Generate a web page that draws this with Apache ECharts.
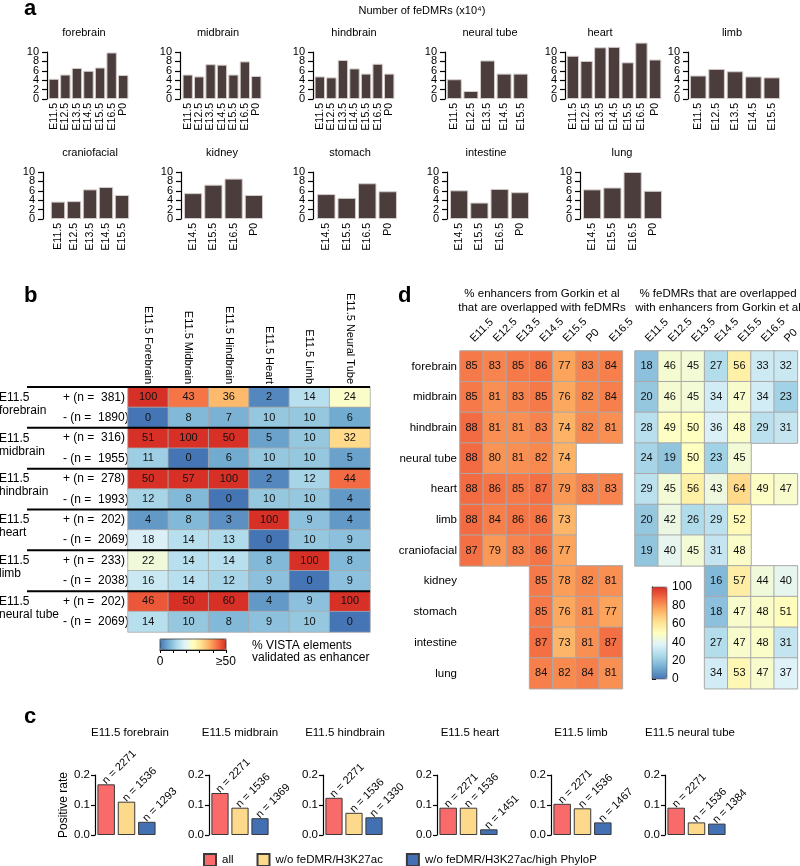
<!DOCTYPE html>
<html><head><meta charset="utf-8">
<script src="https://cdn.jsdelivr.net/npm/echarts@6/dist/echarts.min.js"></script>
<style>html,body{margin:0;padding:0;background:#fff}#c{width:800px;height:866px}</style>
</head><body><div id="c"></div>
<script>
// ---------------- DATA ----------------
// Panel a: number of feDMRs (x10^4)
const aTitle = 'Number of feDMRs (x10\u2074)';
const aTissues = ['forebrain','midbrain','hindbrain','neural tube','heart','limb','craniofacial','kidney','stomach','intestine','lung'];
const aStages = [
  ['E11.5','E12.5','E13.5','E14.5','E15.5','E16.5','P0'],
  ['E11.5','E12.5','E13.5','E14.5','E15.5','E16.5','P0'],
  ['E11.5','E12.5','E13.5','E14.5','E15.5','E16.5','P0'],
  ['E11.5','E12.5','E13.5','E14.5','E15.5'],
  ['E11.5','E12.5','E13.5','E14.5','E15.5','E16.5','P0'],
  ['E11.5','E12.5','E13.5','E14.5','E15.5'],
  ['E11.5','E12.5','E13.5','E14.5','E15.5'],
  ['E14.5','E15.5','E16.5','P0'],
  ['E14.5','E15.5','E16.5','P0'],
  ['E14.5','E15.5','E16.5','P0'],
  ['E14.5','E15.5','E16.5','P0']
];
const aValues = [
  [4.3,5.2,6.6,6.0,6.7,9.9,5.1],
  [5.2,4.8,7.4,7.3,5.2,8.0,4.9],
  [4.8,4.6,8.3,6.5,5.4,7.5,5.4],
  [4.2,1.7,8.2,5.4,5.4],
  [9.2,8.1,11.0,11.1,7.8,12.0,8.4],
  [5.0,6.4,5.9,4.8,4.6],
  [3.7,3.8,6.3,6.8,5.1],
  [5.5,7.3,8.6,5.1],
  [5.3,4.5,7.6,5.9],
  [6.1,3.5,6.4,5.7],
  [6.3,6.7,10.0,6.0]
];
const aTickLabels = ['0','2','4','6','8','10'];

// Panel b: % VISTA elements validated as enhancer
const bCols = ['E11.5 Forebrain','E11.5 Midbrain','E11.5 Hindbrain','E11.5 Heart','E11.5 Limb','E11.5 Neural Tube'];
const bTissues = ['forebrain','midbrain','hindbrain','heart','limb','neural tube'];
const bPosN = [381,316,278,202,233,202];
const bNegN = [1890,1955,1993,2069,2038,2069];
const bPos = [
  [100,43,36,2,14,24],
  [51,100,50,5,10,32],
  [50,57,100,2,12,44],
  [4,8,3,100,9,4],
  [22,14,14,8,100,8],
  [46,50,60,4,9,100]
];
const bNeg = [
  [0,8,7,10,10,6],
  [11,0,6,10,10,5],
  [12,8,0,10,10,4],
  [18,14,13,0,10,9],
  [16,14,12,9,0,9],
  [14,10,8,9,10,0]
];
const bScaleMax = 50;
const bLegendText = '% VISTA elements\nvalidated as enhancer';

// Panel d: overlaps with Gorkin et al enhancers
const dRows = ['forebrain','midbrain','hindbrain','neural tube','heart','limb','craniofacial','kidney','stomach','intestine','lung'];
const dLeftCols = ['E11.5','E12.5','E13.5','E14.5','E15.5','P0','E16.5'];
const dRightCols = ['E11.5','E12.5','E13.5','E14.5','E15.5','E16.5','P0'];
const dLeft = [
  [85,83,85,86,77,83,84],
  [85,81,83,85,76,82,84],
  [88,81,81,83,74,82,81],
  [88,80,81,82,74,null,null],
  [88,86,85,87,79,83,83],
  [88,84,86,86,73,null,null],
  [87,79,83,86,77,null,null],
  [null,null,null,85,78,82,81],
  [null,null,null,85,76,81,77],
  [null,null,null,87,73,81,87],
  [null,null,null,84,82,84,81]
];
const dRight = [
  [18,46,45,27,56,33,32],
  [20,46,45,34,47,34,23],
  [28,49,50,36,48,29,31],
  [24,19,50,23,45,null,null],
  [29,45,56,43,64,49,47],
  [20,42,26,29,52,null,null],
  [19,40,45,31,48,null,null],
  [null,null,null,16,57,44,40],
  [null,null,null,18,47,48,51],
  [null,null,null,27,47,48,31],
  [null,null,null,34,53,47,37]
];
const dLeftTitle = '% enhancers from Gorkin et al\nthat are overlapped with feDMRs';
const dRightTitle = '% feDMRs that are overlapped\nwith enhancers from Gorkin et al';

// Panel c: positive rate
const cTissues = ['E11.5 forebrain','E11.5 midbrain','E11.5 hindbrain','E11.5 heart','E11.5 limb','E11.5 neural tube'];
const cGroups = ['all','w/o feDMR/H3K27ac','w/o feDMR/H3K27ac/high PhyloP'];
const cRates = [
  [0.169,0.111,0.044],
  [0.140,0.091,0.056],
  [0.124,0.074,0.059],
  [0.091,0.091,0.019],
  [0.104,0.089,0.042],
  [0.091,0.042,0.038]
];
const cN = [
  [2271,1536,1293],
  [2271,1536,1369],
  [2271,1536,1330],
  [2271,1536,1451],
  [2271,1536,1467],
  [2271,1536,1384]
];

// ---------------- LAYOUT / STYLE ----------------
const FONT = '"Liberation Sans", Arial, Helvetica, sans-serif';
const PAL = ['#4575b4','#74add1','#abd9e9','#e0f3f8','#ffffbf','#fee090','#fdae61','#f46d43','#d73027'];
const cColors = ['#f96a6b','#fdd98c','#4270b2'];

const aLayout = [
  {left:48,width:81,off:1,row:0,tx:84},
  {left:182,width:80,off:2,row:0,tx:218},
  {left:314,width:81,off:1,row:0,tx:354},
  {left:446,width:83,off:1,row:0,tx:490},
  {left:566,width:96,off:1,row:0,tx:600},
  {left:689,width:92,off:1,row:0,tx:732},
  {left:50,width:80,off:7,row:1,tx:90},
  {left:183,width:81,off:2,row:1,tx:222},
  {left:316,width:82,off:3,row:1,tx:350},
  {left:449,width:81,off:2,row:1,tx:486},
  {left:582,width:81,off:2,row:1,tx:622}
];
const aRowTop = [52,172], aRowTitleY = [33,153], aH = 47;

const B = {left:128, top:387, width:242, height:245};
const DL = {left:460, top:351, width:162.4, height:337.7};
const DR = {left:635, top:351, width:162.4, height:337.7};
const cLayout = [
  {left:96,width:61,tx:130},{left:210,width:60,tx:240},{left:324,width:60,tx:345},
  {left:438,width:61,tx:470},{left:552,width:61,tx:581},{left:666,width:61,tx:690}
];
const cTop = 775, cH = 60;

// ---------------- BUILD ----------------
const option = {
  animation:false,
  textStyle:{fontFamily:FONT,color:'#000'},
  grid:[], xAxis:[], yAxis:[], series:[], visualMap:[], graphic:[]
};
function txt(x,y,text,size,opts){
  opts = opts||{};
  return {type:'text', x:x, y:y, z:100, rotation:opts.rotation||0,
    style:{text:text, font:(opts.bold?'bold ':'')+size+'px '+FONT, fill:'#000',
      textAlign:opts.align||'left', align:opts.align||'left',
      textVerticalAlign:opts.va||'middle', verticalAlign:opts.va||'middle',
      lineHeight:opts.lh||size+2}};
}
const G = option.graphic;

// Panel letters
G.push(txt(24,9,'a',22,{bold:true}));
G.push(txt(24,296,'b',22,{bold:true}));
G.push(txt(24,717,'c',22,{bold:true}));
G.push(txt(398,296,'d',22,{bold:true}));

// ---- Panel a ----
G.push(txt(422,11,aTitle,11,{align:'center'}));
const aMin = +aTickLabels[0], aMax = +aTickLabels[aTickLabels.length-1];
const aStep = (aMax-aMin)/(aTickLabels.length-1);
aTissues.forEach((t,i)=>{
  const L = aLayout[i];
  const gi = option.grid.length;
  option.grid.push({left:L.left, top:aRowTop[L.row], width:L.width, height:aH});
  option.xAxis.push({type:'category', gridIndex:gi, data:aStages[i],
    axisLine:{show:false}, axisTick:{show:false},
    axisLabel:{rotate:90, fontSize:10.5, margin:4, color:'#000', interval:0}});
  const yi = option.yAxis.length;
  // value axis: scale, line and ticks
  option.yAxis.push({type:'value', gridIndex:gi, min:aMin, max:aMax, interval:aStep, offset:L.off, position:'left',
    axisLine:{show:true, lineStyle:{color:'#000',width:1.2}},
    axisTick:{show:true, length:5, lineStyle:{color:'#000',width:1.2}},
    axisLabel:{show:false}, splitLine:{show:false}});
  // companion axis carrying the tick labels (all shown)
  option.yAxis.push({type:'category', gridIndex:gi, data:aTickLabels, boundaryGap:false, offset:L.off, position:'left',
    axisLine:{show:false}, axisTick:{show:false}, splitLine:{show:false},
    axisLabel:{interval:0, fontSize:11, margin:8, color:'#000'}});
  option.series.push({type:'bar', xAxisIndex:gi, yAxisIndex:yi, data:aValues[i], clip:false,
    barCategoryGap:'10%', silent:true,
    itemStyle:{color:'#4a3d3b', borderColor:'#d4cccb', borderWidth:1}});
  G.push(txt(L.tx, aRowTitleY[L.row], t, 11, {align:'center'}));
});

// ---- Panel b ----
const bRowLabels = [];
const bData = [];
bTissues.forEach((t,k)=>{
  bRowLabels.push('+ (n =  '+bPosN[k]+')');
  bRowLabels.push('- (n =  '+bNegN[k]+')');
  bPos[k].forEach((v,c)=>bData.push([c,2*k,Math.min(v,bScaleMax),v]));
  bNeg[k].forEach((v,c)=>bData.push([c,2*k+1,Math.min(v,bScaleMax),v]));
});
let gi = option.grid.length;
option.grid.push(Object.assign({},B));
const bxi = option.xAxis.length, byi = option.yAxis.length;
option.xAxis.push({type:'category', gridIndex:gi, data:bCols, position:'top',
  axisLine:{show:false}, axisTick:{show:false},
  axisLabel:{rotate:90, fontSize:11, margin:3, color:'#000', interval:0}});
option.yAxis.push({type:'category', gridIndex:gi, data:bRowLabels.map((_,i)=>String(i)), inverse:true,
  axisLine:{show:false}, axisTick:{show:false},
  axisLabel:{fontSize:12, margin:65, align:'left', color:'#000', interval:0, formatter:(v,i)=>bRowLabels[i]}});
const bSeriesIdx = option.series.length;
option.series.push({type:'heatmap', xAxisIndex:bxi, yAxisIndex:byi, data:bData, silent:true,
  emphasis:{disabled:true},
  itemStyle:{borderColor:'#a8a8a8', borderWidth:0.8},
  label:{show:true, fontSize:11, color:'#111', formatter:p=>String(p.value[3])}});
const bRowH = B.height/12;
bTissues.forEach((t,k)=>{
  const y = B.top + k*2*bRowH;
  G.push({type:'line', z:100, shape:{x1:27,y1:y,x2:B.left+B.width,y2:y}, style:{stroke:'#000',lineWidth:2}});
  G.push(txt(-1, y+4, 'E11.5\n'+t, 12, {va:'top', lh:13}));
});
option.visualMap.push({type:'continuous', min:0, max:bScaleMax, dimension:2, seriesIndex:[bSeriesIdx],
  orient:'horizontal', left:160, top:639, itemWidth:11, itemHeight:66, padding:0,
  calculable:false, hoverLink:false, inRange:{color:PAL}});
gi = option.grid.length;
option.grid.push({left:160, top:639, width:66, height:11});
option.xAxis.push({type:'value', gridIndex:gi, min:0, max:bScaleMax, interval:10, position:'bottom',
  axisLine:{show:true, lineStyle:{color:'#000'}}, axisTick:{show:true, length:3, lineStyle:{color:'#000'}},
  splitLine:{show:false},
  axisLabel:{fontSize:12, margin:6, color:'#000', showMinLabel:true, showMaxLabel:true,
    formatter:v=> v===0?'0':(v===bScaleMax?'\u2265'+bScaleMax:'')}});
option.yAxis.push({type:'value', gridIndex:gi, show:false, min:0, max:1});
G.push({type:'rect', z:100, shape:{x:160,y:639,width:66,height:11}, style:{fill:'none',stroke:'#333',lineWidth:0.8}});
G.push(txt(252, 639, bLegendText, 12, {va:'top', lh:12.5}));

// ---- Panel d ----
function dHeat(grid, cols, vals, showRows){
  const g = option.grid.length;
  option.grid.push(Object.assign({},grid));
  const xi = option.xAxis.length, yi = option.yAxis.length;
  option.xAxis.push({type:'category', gridIndex:g, data:cols, position:'top',
    axisLine:{show:false}, axisTick:{show:false}, axisLabel:{show:false}});
  option.yAxis.push({type:'category', gridIndex:g, data:dRows, inverse:true,
    axisLine:{show:false}, axisTick:{show:false},
    axisLabel:{show:showRows, fontSize:11.5, margin:3, color:'#000', interval:0}});
  const data = [];
  vals.forEach((row,r)=>row.forEach((v,c)=>{ if(v!==null) data.push([c,r,v]); }));
  const si = option.series.length;
  option.series.push({type:'heatmap', xAxisIndex:xi, yAxisIndex:yi, data:data, silent:true,
    emphasis:{disabled:true},
    itemStyle:{borderColor:'#a8a8a8', borderWidth:1},
    label:{show:true, fontSize:11, color:'#111'}});
  // slanted column labels, placed on the grid's column centres
  const cw = grid.width/cols.length;
  cols.forEach((c,k)=>{
    G.push(txt(grid.left + (k+0.5)*cw + 5, grid.top - 6, c, 11, {va:'bottom', rotation:Math.PI/4}));
  });
  return si;
}
const dl = dHeat(DL, dLeftCols, dLeft, true);
const dr = dHeat(DR, dRightCols, dRight, false);
option.visualMap.push({type:'continuous', min:0, max:100, dimension:2, seriesIndex:[dl,dr],
  orient:'vertical', left:652, top:587, itemWidth:15, itemHeight:92, padding:0,
  calculable:false, hoverLink:false, inRange:{color:PAL}});
gi = option.grid.length;
option.grid.push({left:652, top:587, width:15, height:92});
option.yAxis.push({type:'value', gridIndex:gi, min:0, max:100, interval:20, position:'right',
  axisLine:{show:true, lineStyle:{color:'#000'}}, axisTick:{show:true, length:4, lineStyle:{color:'#000'}},
  splitLine:{show:false}, axisLabel:{fontSize:12, margin:5, color:'#000'}});
option.xAxis.push({type:'value', gridIndex:gi, show:false, min:0, max:1});
G.push({type:'rect', z:100, shape:{x:652,y:587,width:15,height:92}, style:{fill:'none',stroke:'#555',lineWidth:0.6}});
G.push(txt(542, 287, dLeftTitle, 11.5, {align:'center', va:'top', lh:14}));
G.push(txt(718, 287, dRightTitle, 11.5, {align:'center', va:'top', lh:14}));

// ---- Panel c ----
cTissues.forEach((t,i)=>{
  const L = cLayout[i];
  const g = option.grid.length;
  option.grid.push({left:L.left, top:cTop, width:L.width, height:cH});
  const xi = option.xAxis.length, yi = option.yAxis.length;
  option.xAxis.push({type:'category', gridIndex:g, data:cGroups,
    axisLine:{show:false}, axisTick:{show:false}, axisLabel:{show:false}});
  option.yAxis.push({type:'value', gridIndex:g, min:0, max:0.2, interval:0.1, offset:1,
    name: i===0?'Positive rate':'', nameLocation:'middle', nameGap:24, nameRotate:90,
    nameTextStyle:{fontSize:12, color:'#000'},
    axisLine:{show:true, lineStyle:{color:'#000',width:1.2}},
    axisTick:{show:true, length:4, lineStyle:{color:'#000',width:1.2}},
    splitLine:{show:false},
    axisLabel:{fontSize:11.5, margin:5, color:'#000', showMinLabel:true, showMaxLabel:true, formatter:v=>v.toFixed(1)}});
  cGroups.forEach((grp,j)=>{
    const data = cGroups.map((_,k)=> k===j ? cRates[i][j] : '-');
    option.series.push({type:'bar', name:grp, xAxisIndex:xi, yAxisIndex:yi, stack:'c'+i, data:data,
      barCategoryGap:'14%', silent:true,
      itemStyle:{color:cColors[j], borderColor:'#3a3a3a', borderWidth:1},
      label:{show:true, position:'top', distance:4, rotate:45, align:'left', verticalAlign:'middle',
        offset:[-3,0], fontSize:11, color:'#000', formatter:()=> 'n = '+cN[i][j]}});
  });
  G.push(txt(L.tx, 733, t, 11.5, {align:'center'}));
});
option.legend = {data:cGroups, left:203, top:853, padding:0, itemWidth:12, itemHeight:12, itemGap:23,
  icon:'rect', selectedMode:false, textStyle:{fontSize:11.5, color:'#000', padding:[0,0,0,1]}};

const chart = echarts.init(document.getElementById('c'), null, {renderer:'canvas'});
chart.setOption(option);
</script>
</body></html>
